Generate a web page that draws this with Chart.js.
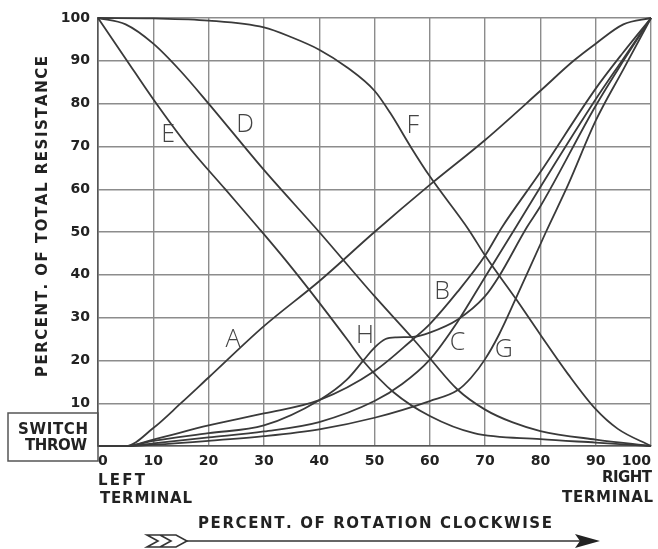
<!DOCTYPE html>
<html>
<head>
<meta charset="utf-8">
<script src="https://cdn.jsdelivr.net/npm/chart.js@4"></script>
<style>
  html, body { margin: 0; padding: 0; background: #fff; }
</style>
</head>
<body>
<canvas id="myChart" width="658" height="549"></canvas>
<script>
// percent of rotation (x) and percent of total resistance (y)
const xTicks = [0, 10, 20, 30, 40, 50, 60, 70, 80, 90, 100];
const yTicks = [10, 20, 30, 40, 50, 60, 70, 80, 90, 100];

const curveNames = ['A', 'B', 'C', 'D', 'E', 'F', 'G', 'H'];

const aX = [0, 5, 10, 15, 20, 30, 40, 50, 60, 70, 80, 86, 90, 95, 100];
const aY = [0, 0, 4.2, 10, 16, 28, 38.5, 50, 61, 71.5, 83, 90, 94, 98.5, 100];

const bX = [0, 5, 10, 20, 30, 40, 50, 57, 60, 65, 70, 73, 80, 90, 95, 100];
const bY = [0, 0, 1.5, 4.8, 7.6, 10.7, 17.5, 25, 28.5, 36, 44.5, 51, 64, 83.5, 92, 100];

const cX = [0, 5, 10, 20, 30, 40, 50, 55, 60, 65, 70, 75.5, 80, 90, 95, 100];
const cY = [0, 0, 0.6, 2, 3.4, 5.6, 10.5, 14.5, 20.2, 29, 39.5, 51, 60.5, 81, 90.5, 100];

const dX = [0, 5, 10, 15, 20, 30, 40, 50, 57, 60, 65, 70, 75, 80, 90, 100];
const dY = [100, 98.5, 94, 87.5, 80, 64.5, 50, 35, 25, 20.5, 13.2, 8.5, 5.5, 3.5, 1.5, 0];

const eX = [0, 5, 10, 16, 23, 29, 34, 40, 45, 48, 53.5, 60, 68, 80, 90, 100];
const eY = [100, 90.5, 81, 70.5, 60, 51, 43.3, 33.5, 25, 19.8, 12.5, 7, 3, 1.6, 0.8, 0];

const fX = [0, 10, 20, 30, 35, 40, 45, 50, 53, 56.5, 60, 67, 70, 75.5, 80, 85, 90, 94, 100];
const fY = [100, 99.9, 99.4, 97.8, 95.5, 92.6, 88.5, 83, 77.5, 70, 63, 50.6, 44.5, 34.5, 26, 16.8, 8.6, 4, 0];

const gX = [0, 5, 10, 20, 30, 40, 50, 60, 65, 67.5, 70, 72.5, 75.5, 81, 85, 90, 95, 100];
const gY = [0, 0, 0.3, 1.2, 2.3, 3.9, 6.6, 10.5, 13, 16, 20.3, 26, 34.3, 50, 61, 76, 88, 100];

const hX = [0, 5, 10, 20, 30, 40, 45, 48, 50, 52, 54, 57, 60, 65, 70, 72.5, 77.5, 80, 90, 95, 100];
const hY = [0, 0, 1.2, 3, 4.8, 10.7, 15.5, 20, 23, 25, 25.4, 25.5, 26.5, 29.5, 35, 39.6, 51, 56, 79.5, 90, 100];

// where the curve letters sit, in chart units
const labelX = [24.4, 62.2, 65, 26.6, 12.7, 56.9, 73.4, 48.3];
const labelY = [24.8, 36, 24.2, 75, 72.8, 74.8, 22.5, 25.8];

const allX = [aX, bX, cX, dX, eX, fX, gX, hX];
const allY = [aY, bY, cY, dY, eY, fY, gY, hY];

const datasets = curveNames.map((name, i) => {
  return {
    label: name,
    data: allX[i].map((x, j) => ({ x: x, y: allY[i][j] })),
    borderColor: '#3a3a3a',
    borderWidth: 1.8,
    pointRadius: 0,
    fill: false,
    cubicInterpolationMode: 'monotone',
    clip: 4
  };
});

const lettering = 'DejaVu Sans';

// draws text spread out to a given width, one char at a time
function spreadText(ctx, str, x, y, width) {
  let natural = 0;
  const ws = [];
  for (const ch of str) { const w = ctx.measureText(ch).width; ws.push(w); natural += w; }
  const gap = str.length > 1 ? (width - natural) / (str.length - 1) : 0;
  let cx = x;
  [...str].forEach((ch, i) => { ctx.fillText(ch, cx, y); cx += ws[i] + gap; });
}

const extras = {
  id: 'extras',
  afterDraw(chart) {
    const ctx = chart.ctx;
    const xs = chart.scales.x, ys = chart.scales.y;
    ctx.save();

    // switch throw box, hanging off the left axis
    ctx.strokeStyle = '#555';
    ctx.lineWidth = 1.5;
    ctx.strokeRect(8, 413, xs.left - 8, 48);
    ctx.fillStyle = '#222';
    ctx.textBaseline = 'middle';
    ctx.font = 'bold 15px "' + lettering + '"';
    spreadText(ctx, 'SWITCH', 18, 430, 70);
    spreadText(ctx, 'THROW', 25, 446, 62);

    // terminal notes
    spreadText(ctx, 'LEFT', 98, 481, 47);
    spreadText(ctx, 'TERMINAL', 100, 499, 92);
    spreadText(ctx, 'RIGHT', 602, 478, 50);
    spreadText(ctx, 'TERMINAL', 562, 498, 91);

    // axis titles
    spreadText(ctx, 'PERCENT. OF ROTATION CLOCKWISE', 198, 524, 354);
    ctx.save();
    ctx.translate(43, 217);
    ctx.rotate(-Math.PI / 2);
    spreadText(ctx, 'PERCENT. OF TOTAL RESISTANCE', -160, 0, 321);
    ctx.restore();

    // rotation arrow
    ctx.strokeStyle = '#333';
    ctx.lineWidth = 1.6;
    ctx.beginPath();
    ctx.moveTo(185, 541);
    ctx.lineTo(582, 541);
    ctx.stroke();
    ctx.beginPath();
    ctx.moveTo(600, 541);
    ctx.lineTo(575, 534);
    ctx.lineTo(580, 541);
    ctx.lineTo(575, 548);
    ctx.closePath();
    ctx.fillStyle = '#222';
    ctx.fill();
    ctx.beginPath();
    ctx.moveTo(147, 535);
    ctx.lineTo(176, 535);
    ctx.lineTo(187, 541);
    ctx.lineTo(176, 547);
    ctx.lineTo(147, 547);
    ctx.lineTo(158, 541);
    ctx.closePath();
    ctx.moveTo(160, 535);
    ctx.lineTo(171, 541);
    ctx.lineTo(160, 547);
    ctx.stroke();

    // curve letters
    ctx.fillStyle = '#444';
    ctx.font = '300 25px "Open Sans"';
    ctx.textAlign = 'center';
    ctx.textBaseline = 'middle';
    curveNames.forEach((n, i) => {
      ctx.fillText(n, xs.getPixelForValue(labelX[i]), ys.getPixelForValue(labelY[i]));
    });
    ctx.restore();
  }
};

const config = {
  type: 'line',
  data: { datasets },
  options: {
    responsive: false,
    devicePixelRatio: 1,
    animation: false,
    layout: { padding: { top: 18, right: 5, left: 0, bottom: 0 } },
    plugins: { legend: { display: false }, tooltip: { enabled: false } },
    scales: {
      x: {
        type: 'linear',
        min: 0,
        max: 100,
        afterBuildTicks: (s) => { s.ticks = xTicks.map(v => ({ value: v })); },
        afterFit: (s) => { s.height = 103; },
        ticks: {
          color: '#222',
          font: { family: lettering, size: 14, weight: 'bold' },
          padding: 7,
          align: 'inner',
          maxRotation: 0,
          autoSkip: false
        },
        grid: { color: '#8c8c8c', lineWidth: 1.4, drawTicks: false },
        border: { color: '#555', width: 1.6 }
      },
      y: {
        type: 'linear',
        min: 0,
        max: 100,
        afterBuildTicks: (s) => { s.ticks = [0].concat(yTicks).map(v => ({ value: v })); },
        afterFit: (s) => { s.width = 98; },
        ticks: {
          color: '#222',
          font: { family: lettering, size: 14, weight: 'bold' },
          padding: 8,
          callback: (v) => (v === 0 ? '' : v)
        },
        grid: { color: '#8c8c8c', lineWidth: 1.4, drawTicks: false },
        border: { color: '#555', width: 1.6 }
      }
    }
  },
  plugins: [extras]
};

new Chart(document.getElementById('myChart'), config);
</script>
</body>
</html>
